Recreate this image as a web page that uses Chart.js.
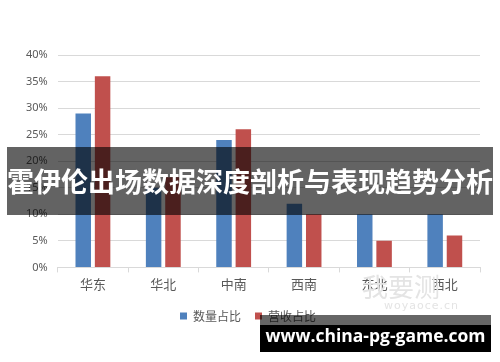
<!DOCTYPE html>
<html><head><meta charset="utf-8">
<script src="https://cdn.jsdelivr.net/npm/chart.js@4"></script>
<style>
html,body{margin:0;padding:0;background:#fff;}
#wrap{position:relative;width:500px;height:362px;overflow:hidden;font-family:"Noto Sans CJK SC",sans-serif;}
#c{position:absolute;left:0;top:0;}
#banner{position:absolute;left:7px;top:147px;width:486px;height:68px;background:rgba(0,0,0,0.61);color:#fff;font-weight:bold;font-size:27px;line-height:68px;text-align:center;white-space:nowrap;letter-spacing:0px;}
#logo{position:absolute;left:362px;top:272px;color:#e4e4e4;font-size:26px;line-height:28px;white-space:nowrap;}
#logo small{display:block;font-size:11px;line-height:12px;margin-left:22px;letter-spacing:1px;font-family:"DejaVu Sans",sans-serif;}
#wm1{position:absolute;left:260px;top:315px;width:231px;height:10px;background:rgba(0,0,0,0.6);}
#wm2{position:absolute;left:260px;top:325px;width:231px;height:27px;background:#000;}
#wmt{position:absolute;left:260px;top:315px;width:231px;height:37px;color:#fff;font-family:"Open Sans","DejaVu Sans",sans-serif;font-weight:bold;font-size:17.5px;line-height:40px;text-align:center;white-space:nowrap;}
</style></head>
<body>
<div id="wrap">
<canvas id="c" width="500" height="362"></canvas>
<div id="logo">我要测<small>woyaoce.cn</small></div>
<div id="banner">霍伊伦出场数据深度剖析与表现趋势分析</div>
<div id="wm1"></div><div id="wm2"></div>
<div id="wmt">www.china-pg-game.com</div>
</div>
<script>
const categories = ["华东","华北","中南","西南","东北","西北"];
const countShare = [0.29,0.15,0.24,0.12,0.10,0.10];
const revenueShare = [0.36,0.17,0.26,0.10,0.05,0.06];
const seriesNames = ["数量占比","营收占比"];

new Chart(document.getElementById('c'), {
  type: 'bar',
  data: {
    labels: categories,
    datasets: [
      {label: seriesNames[0], data: countShare, backgroundColor: '#4f81bd'},
      {label: seriesNames[1], data: revenueShare, backgroundColor: '#c0504d'}
    ]
  },
  options: {
    responsive: false,
    animation: false,
    devicePixelRatio: 1,
    categoryPercentage: 0.55,
    barPercentage: 0.8,
    layout: {padding: {top: 55, right: 20, bottom: 30, left: 16}},
    plugins: {
      tooltip: {enabled: false},
      legend: {
        position: 'bottom',
        labels: {
          boxWidth: 7, boxHeight: 7, padding: 14,
          color: '#595959',
          font: {family: '"Noto Sans CJK SC"', size: 12}
        }
      }
    },
    scales: {
      x: {
        grid: {offset: true, drawOnChartArea: false, color: '#d9d9d9', tickLength: 5},
        border: {color: '#d9d9d9'},
        ticks: {color: '#595959', font: {family: '"Noto Sans CJK SC"', size: 13}, padding: 4}
      },
      y: {
        min: 0, max: 0.4,
        ticks: {stepSize: 0.05, color: '#595959', padding: 10,
          font: {family: '"Noto Sans", sans-serif', size: 11},
          callback: v => Math.round(v*100) + '%'},
        grid: {color: '#d9d9d9', drawTicks: false},
        border: {display: false}
      }
    }
  }
});
</script>
</body></html>
